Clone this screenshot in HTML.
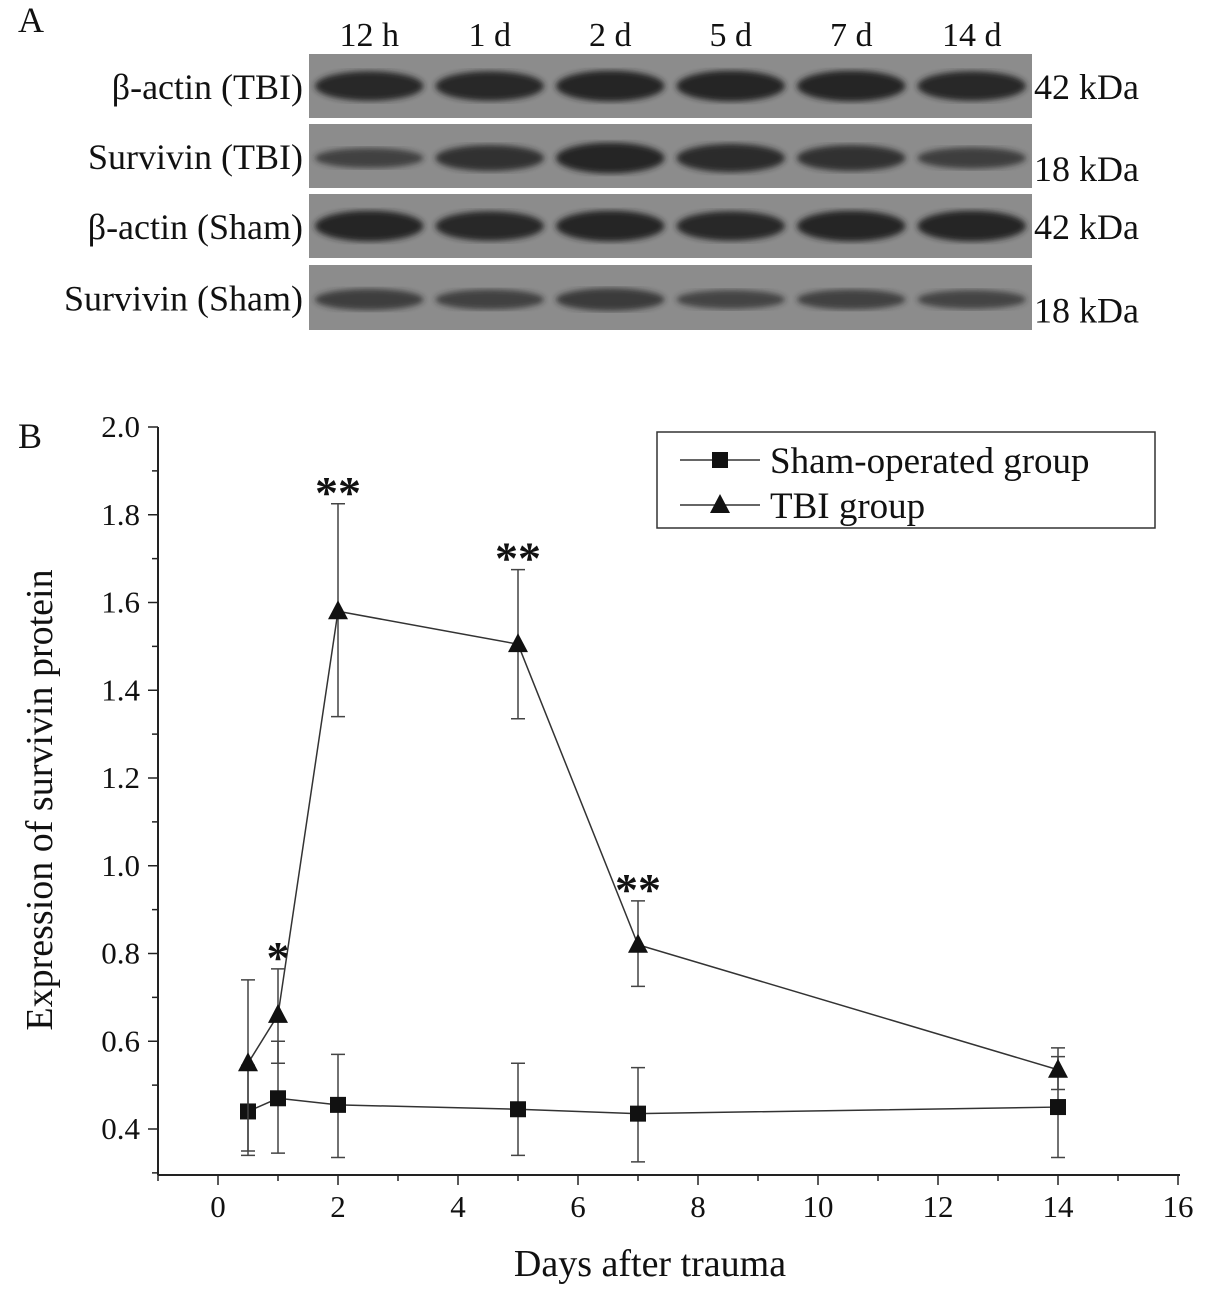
<!DOCTYPE html>
<html><head><meta charset="utf-8"><style>
body{margin:0;background:#fff;}
svg text{font-family:"Liberation Serif",serif;fill:#111;}
</style></head><body>
<svg width="1205" height="1296" viewBox="0 0 1205 1296">
<defs><filter id="blur"><feGaussianBlur stdDeviation="3"/></filter></defs>
<g id="blot"></g>
<text x="18" y="32" font-size="36">A</text>
<text x="18" y="448" font-size="36">B</text>
<g id="chart"></g>
</svg>
<script>
const lanes=["12 h","1 d","2 d","5 d","7 d","14 d"];
const rowLabels=["β-actin (TBI)","Survivin (TBI)","β-actin (Sham)","Survivin (Sham)"];
const kda=["42 kDa","18 kDa","42 kDa","18 kDa"];
const bandIntensity=[[0.9,0.9,0.95,0.95,0.95,0.9],[0.5,0.75,0.95,0.85,0.75,0.55],[0.95,0.9,0.95,0.9,0.95,0.95],[0.55,0.5,0.6,0.45,0.5,0.45]];
const days=[0.5,1,2,5,7,14];
const sham=[0.44,0.47,0.455,0.445,0.435,0.45];
const shamLo=[0.34,0.345,0.335,0.34,0.325,0.335];
const shamHi=[0.545,0.6,0.57,0.55,0.54,0.565];
const tbi=[0.55,0.66,1.58,1.505,0.82,0.535];
const tbiLo=[0.35,0.55,1.34,1.335,0.725,0.49];
const tbiHi=[0.74,0.765,1.825,1.675,0.92,0.585];
const stars=["","*","**","**","**",""];
const xTicks=[0,2,4,6,8,10,12,14,16];
const yTicks=[0.4,0.6,0.8,1.0,1.2,1.4,1.6,1.8,2.0];
const NS="http://www.w3.org/2000/svg";
function mk(p,t,a){const e=document.createElementNS(NS,t);for(const k in a)e.setAttribute(k,a[k]);p.appendChild(e);return e;}
const blot=document.getElementById('blot');
const rowsY=[[54,118],[124,188],[194,258],[265,330]];
const bx0=309,bx1=1032,lw=(bx1-bx0)/6;
lanes.forEach((l,i)=>{const t=mk(blot,'text',{x:bx0+lw*(i+0.5),y:46,'font-size':34,'text-anchor':'middle'});t.textContent=l;

});
rowsY.forEach((r,ri)=>{
 const rc=mk(blot,'rect',{x:bx0,y:r[0],width:bx1-bx0,height:r[1]-r[0],fill:'#8c8c8c'});
 
 
 bandIntensity[ri].forEach((v,i)=>{const cy=(r[0]+r[1])/2+(ri%2?2:0);
  const b=mk(blot,'ellipse',{cx:bx0+lw*(i+0.5),cy:cy,rx:lw*0.45,ry:4+v*12,fill:'#222',opacity:0.4+v*0.6,filter:'url(#blur)'});
  
  });
 const t=mk(blot,'text',{x:303,y:(r[0]+r[1])/2+13,'font-size':36,'text-anchor':'end'});t.textContent=rowLabels[ri];
 
 
 const k=mk(blot,'text',{x:1034,y:(r[0]+r[1])/2+(ri%2?14:2)+11,'font-size':36});k.textContent=kda[ri];
 
 
});
const ch=document.getElementById('chart');
const X=d=>218+d*60, Y=v=>1129-(v-0.4)*438.75;
const L=158,B=1175,T=427,R=1180;
mk(ch,'line',{x1:L,y1:T,x2:L,y2:B,stroke:'#222','stroke-width':2});
mk(ch,'line',{x1:L,y1:B,x2:R,y2:B,stroke:'#222','stroke-width':2});
for(let d=-1;d<=16;d++){const big=d%2===0;mk(ch,'line',{x1:X(d),y1:B,x2:X(d),y2:B+(big?10:6),stroke:'#222','stroke-width':1.5});}
xTicks.forEach(d=>{const t=mk(ch,'text',{x:X(d),y:1217,'font-size':31,'text-anchor':'middle'});t.textContent=d;

});
for(let v=0.3;v<=2.001;v+=0.1){const big=Math.round(v*10)%2===0;mk(ch,'line',{x1:L,y1:Y(v),x2:L-(big?10:6),y2:Y(v),stroke:'#222','stroke-width':1.5});}
yTicks.forEach(v=>{const t=mk(ch,'text',{x:140,y:Y(v)+10,'font-size':31,'text-anchor':'end'});t.textContent=v.toFixed(1);

});
const xt=mk(ch,'text',{x:650,y:1276,'font-size':38,'text-anchor':'middle'});xt.textContent='Days after trauma';


const yt=mk(ch,'text',{x:0,y:0,'font-size':38,'text-anchor':'middle',transform:'translate(52,800) rotate(-90)'});yt.textContent='Expression of survivin protein';


function series(vals,lo,hi,shape,name){
 const pts=days.map((d,i)=>X(d)+','+Y(vals[i])).join(' ');
 const pl=mk(ch,'polyline',{points:pts,fill:'none',stroke:'#333','stroke-width':1.5});
 
 
 days.forEach((d,i)=>{const x=X(d);
  const e=mk(ch,'path',{d:`M${x},${Y(lo[i])}V${Y(hi[i])}M${x-7},${Y(lo[i])}h14M${x-7},${Y(hi[i])}h14`,stroke:'#444','stroke-width':1.5,fill:'none'});
  
  
  const y=Y(vals[i]);let m;
  if(shape==='sq') m=mk(ch,'rect',{x:x-8,y:y-8,width:16,height:16,fill:'#111'});
  else m=mk(ch,'path',{d:`M${x},${y-11}L${x+10},${y+8}L${x-10},${y+8}Z`,fill:'#111'});
  
  });
}
series(sham,shamLo,shamHi,'sq','sham');
series(tbi,tbiLo,tbiHi,'tri','tbi');
days.forEach((d,i)=>{if(!stars[i])return;const t=mk(ch,'text',{x:X(d),y:Y(tbiHi[i])+4,'font-size':46,'font-weight':'bold','text-anchor':'middle'});t.textContent=stars[i];

});
const lg=mk(ch,'g',{});


mk(lg,'rect',{x:657,y:432,width:498,height:96,fill:'#fff',stroke:'#333','stroke-width':1.5});
mk(lg,'line',{x1:680,y1:460,x2:760,y2:460,stroke:'#333','stroke-width':1.5});
mk(lg,'rect',{x:712,y:452,width:16,height:16,fill:'#111'});
mk(lg,'line',{x1:680,y1:505,x2:760,y2:505,stroke:'#333','stroke-width':1.5});
mk(lg,'path',{d:'M720,494L730,513L710,513Z',fill:'#111'});
const l1=mk(lg,'text',{x:770,y:473,'font-size':37});l1.textContent='Sham-operated group';


const l2=mk(lg,'text',{x:770,y:518,'font-size':37});l2.textContent='TBI group';


</script>
</body></html>
